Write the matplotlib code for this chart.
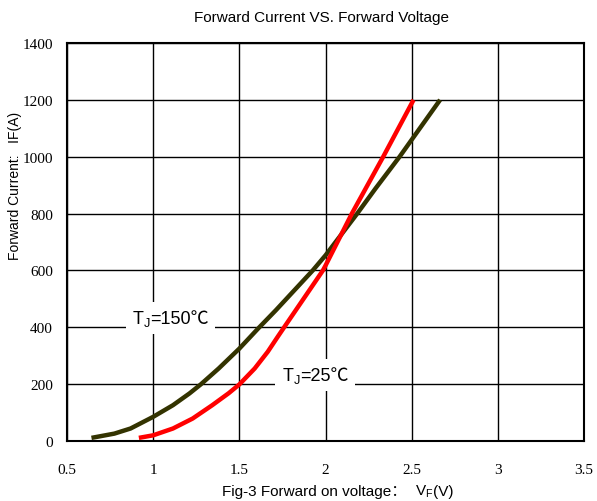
import matplotlib
matplotlib.use("Agg")
import matplotlib.pyplot as plt
from matplotlib.offsetbox import TextArea, HPacker, AnnotationBbox

# Data
vf_150 = [0.642, 0.775, 0.869, 1.0, 1.115, 1.21, 1.276, 1.38, 1.5, 1.608, 1.712, 1.926, 2.0, 2.184, 2.29, 2.43, 2.665]
if_150 = [11, 26, 44, 85, 126, 167, 199, 255, 325, 395, 460, 600, 653, 800, 888, 1000, 1200]
vf_25 = [0.917, 1.0, 1.115, 1.229, 1.343, 1.438, 1.5, 1.589, 1.665, 1.722, 1.76, 1.985, 2.0, 2.153, 2.233, 2.335, 2.511]
if_25 = [11, 20, 44, 79, 126, 168, 199, 255, 314, 366, 400, 600, 617, 800, 888, 1000, 1200]
xticks = [0.5, 1, 1.5, 2, 2.5, 3, 3.5]
xticklabels = ["0.5", "1", "1.5", "2", "2.5", "3", "3.5"]
yticks = [0, 200, 400, 600, 800, 1000, 1200, 1400]

FAM = ['Liberation Sans', 'Noto Sans CJK SC', 'DejaVu Sans']
plt.rcParams['font.family'] = FAM
plt.rcParams['mathtext.fontset'] = 'custom'
plt.rcParams['mathtext.rm'] = 'Liberation Sans'
plt.rcParams['mathtext.it'] = 'Liberation Sans'

fig = plt.figure(figsize=(5.97, 5.02), dpi=100)
ax = fig.add_axes([67/597, 60/502, (584-67)/597, (442-44)/502])

ax.set_xlim(0.5, 3.5)
ax.set_ylim(0, 1400)
ax.set_xticks(xticks)
ax.set_xticklabels(xticklabels, family='Liberation Serif', fontsize=11)
ax.set_yticks(yticks)
ax.set_yticklabels([str(v) for v in yticks], family='Liberation Serif', fontsize=11)
ax.tick_params(axis='y', length=0, pad=10)
ax.tick_params(axis='x', length=0, pad=16)
ax.grid(True, color='black', linewidth=1.0)
ax.set_axisbelow(True)
for s in ax.spines.values():
    s.set_linewidth(1.5)
    s.set_color('black')

ax.plot(vf_150, if_150, color='#333300', linewidth=3.2, solid_capstyle='butt', zorder=3)
ax.plot(vf_25, if_25, color='#ff0000', linewidth=3.2, solid_capstyle='butt', zorder=3)


def label(parts, size):
    areas = [TextArea(t, textprops=dict(fontsize=size, family=FAM)) for t in parts]
    return HPacker(children=areas, align='baseline', pad=0, sep=0)


for parts, xy in [(['T$_\\mathrm{J}$', '=150\u2103'], (1.10, 432)),
                  (['T$_\\mathrm{J}$', '=25\u2103'], (1.94, 232))]:
    ab = AnnotationBbox(label(parts, 13), xy, xycoords='data', frameon=True,
                        pad=0.45, box_alignment=(0.5, 0.5),
                        bboxprops=dict(facecolor='white', edgecolor='none'), zorder=4)
    ax.add_artist(ab)

fig.text(322/597, 1 - 18/502, 'Forward Current VS. Forward Voltage', fontsize=11,
         ha='center', va='center')
xl = AnnotationBbox(label(['Fig-3 Forward on voltage\uff1a  ', 'V$_\\mathrm{F}$', '(V)'], 11),
                    (338/597, 1 - 492/502), xycoords='figure fraction', frameon=False,
                    box_alignment=(0.5, 0.5))
fig.add_artist(xl)
fig.text(15/597, 1 - 186/502, 'Forward Current:   IF(A)', fontsize=10, rotation=90,
         ha='center', va='center')

fig.savefig('out.png', dpi=100)
